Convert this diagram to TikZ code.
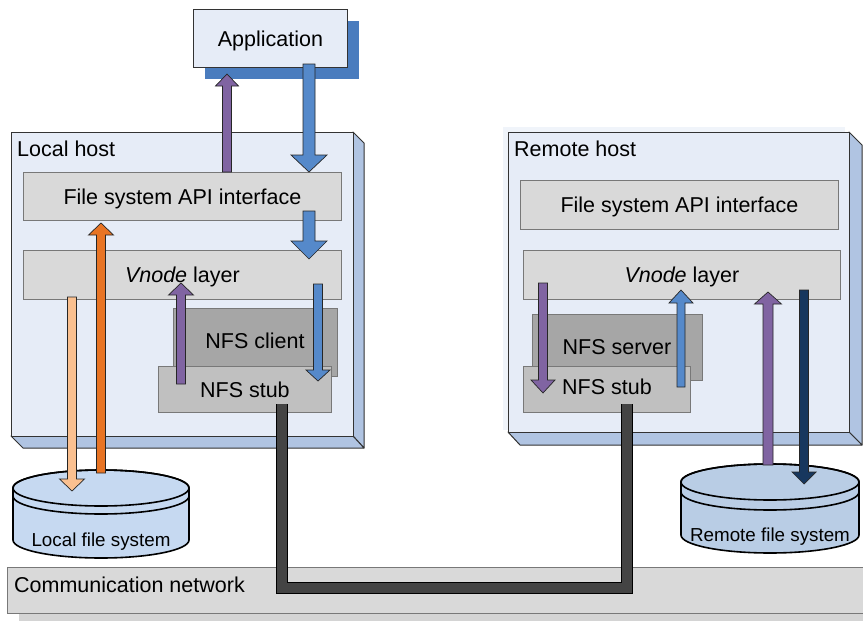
\documentclass[tikz,border=0pt]{standalone}
\usepackage{fontspec}
\setmainfont{Liberation Sans}
\usetikzlibrary{calc}
\definecolor{hostfront}{RGB}{230,236,247}
\definecolor{hostside}{RGB}{176,196,226}
\definecolor{appshadow}{RGB}{74,124,190}
\definecolor{layerfill}{RGB}{217,217,217}
\definecolor{layerline}{RGB}{120,120,120}
\definecolor{nfsfill}{RGB}{166,166,166}
\definecolor{stubfill}{RGB}{192,192,192}
\definecolor{ldisk}{RGB}{198,217,241}
\definecolor{rdisk}{RGB}{185,205,229}
\definecolor{apurple}{RGB}{128,100,162}
\definecolor{ablue}{RGB}{85,137,202}
\definecolor{aorange}{RGB}{232,116,36}
\definecolor{apeach}{RGB}{250,192,144}
\definecolor{anavy}{RGB}{23,55,94}
\definecolor{cable}{RGB}{68,68,68}
\definecolor{netshadow}{RGB}{212,212,212}
\definecolor{halo}{RGB}{240,244,250}
\newcommand\barrow[7]{\filldraw[arrowline, fill=#7] ({#1-#5},#2) -- ({#1-#5},#3) -- ({#1-#6},#3) -- (#1,#4) -- ({#1+#6},#3) -- ({#1+#5},#3) -- ({#1+#5},#2) -- cycle;}
\begin{document}
\begin{tikzpicture}[x=1pt,y=-1pt,
  lbl/.style={font=\fontsize{21.5}{25}\selectfont, text height=15.4pt, text depth=0pt},
  small/.style={font=\fontsize{18.8}{22}\selectfont, text height=13.5pt, text depth=0pt},
  box/.style={rectangle, inner sep=0pt, anchor=north west, lbl},
  layer/.style={box, draw=layerline, line width=0.8pt, fill=layerfill},
  nfs/.style={box, draw=layerline, line width=0.8pt, fill=nfsfill},
  stub/.style={box, draw=layerline, line width=0.8pt, fill=stubfill},
  host/.style={box, draw=black!80, line width=1pt, fill=hostfront},
  side/.style={draw=black!80, line width=1pt, fill=hostside, line join=round},
  arrowline/.style={draw=black!85, line width=0.7pt, line join=miter},
  disk/.style={draw=black, line width=1.6pt},
]
\useasboundingbox (0,0) rectangle (863,621);
\fill[white] (0,0) rectangle (863,621);

% Application
\fill[appshadow] (205,21) rectangle (359,79);
\node[box, draw=black!80, line width=0.8pt, fill=hostfront, minimum width=154, minimum height=58] (app) at (193,9) {Application};

% Local host
\filldraw[side] (353,132) -- (364,143) -- (364,448) -- (353,436) -- cycle;
\filldraw[side] (11,436) -- (23,448) -- (364,448) -- (353,436) -- cycle;
\node[host, minimum width=342, minimum height=304] (lhost) at (11,132) {};
\node[lbl, anchor=west, inner sep=0pt] (lhostlbl) at (17,149) {Local host};
\node[layer, minimum width=318, minimum height=48] (lapi) at (23,172) {File system API interface};
\node[layer, minimum width=318, minimum height=49] (lvnode) at (23,250) {{\itshape Vnode} layer};
\node[nfs, minimum width=164, minimum height=68] (lclient) at (173,308) {};
\node[lbl, inner sep=0pt] (lclientlbl) at (255,341) {NFS client};
\node[stub, minimum width=173, minimum height=46] (lstub) at (158,366) {NFS stub};

% Remote host
\fill[halo] (503,127) rectangle (845,430);
\filldraw[side] (849,132) -- (862,145) -- (862,445) -- (849,432) -- cycle;
\filldraw[side] (508,432) -- (520,445) -- (862,445) -- (849,432) -- cycle;
\node[host, minimum width=341, minimum height=300] (rhost) at (508,132) {};
\node[lbl, anchor=west, inner sep=0pt] (rhostlbl) at (514,149) {Remote host};
\node[layer, minimum width=318, minimum height=49] (rapi) at (520,180) {File system API interface};
\node[layer, minimum width=317, minimum height=49] (rvnode) at (523,250) {{\itshape Vnode} layer};
\node[nfs, minimum width=170, minimum height=66] (rserver) at (532,314) {};
\node[lbl, inner sep=0pt] (rserverlbl) at (617,347) {NFS server};
\node[stub, minimum width=167, minimum height=46] (rstub) at (523,366) {};
\node[lbl, inner sep=0pt] (rstublbl) at (607,387) {NFS stub};

% Communication network
\fill[netshadow] (19,575) rectangle (870,625);
\node[box, draw=layerline, line width=0.8pt, fill=layerfill, minimum width=870, minimum height=46] (net) at (7,567) {};
\node[lbl, anchor=west, inner sep=0pt] (netlbl) at (14,585) {Communication network};

% Cable
\coordinate (ca) at (282,404);
\coordinate (cb) at (282,588);
\coordinate (cc) at (627,588);
\coordinate (cd) at (627,404);
\draw[black, line width=12pt, line join=miter] (ca) -- (cb) -- (cc) -- (cd);
\draw[cable, line width=9.6pt, line join=miter] ([yshift=0.4pt]ca) -- (cb) -- (cc) -- ([yshift=0.4pt]cd);

% Local disk
\filldraw[disk, fill=ldisk] (13,488) -- (13,540) arc[start angle=180, end angle=0, x radius=88, y radius=18] -- (189,488) arc[start angle=0, end angle=-180, x radius=88, y radius=18] -- cycle;
\draw[disk] (101,488) ellipse[x radius=88, y radius=18];
\draw[disk] (13,496) arc[start angle=180, end angle=0, x radius=88, y radius=18];
\node[small, inner sep=0pt] (ldisklbl) at (101,540) {Local file system};

% Remote disk
\filldraw[disk, fill=rdisk] (681,482) -- (681,535) arc[start angle=180, end angle=0, x radius=89, y radius=18] -- (859,482) arc[start angle=0, end angle=-180, x radius=89, y radius=18] -- cycle;
\draw[disk] (770,482) ellipse[x radius=89, y radius=18];
\draw[disk] (681,492) arc[start angle=180, end angle=0, x radius=89, y radius=18];
\node[small, inner sep=0pt] (rdisklbl) at (770,535) {Remote file system};

% Arrows: x, y0, ybase, ytip, half shaft, half head, colour
\barrow{227}{172}{86}{74}{4.5}{11.5}{apurple}
\barrow{309}{64}{155}{172}{6}{18}{ablue}
\barrow{309}{211}{241}{259}{6}{18}{ablue}
\barrow{101}{473}{235}{223}{4.5}{12.5}{aorange}
\barrow{72}{297}{479}{491}{4.5}{12.5}{apeach}
\barrow{181}{384}{295}{283}{4.5}{12.5}{apurple}
\barrow{318}{284}{370}{381}{4.5}{12}{ablue}
\barrow{543}{283}{380}{393}{4.5}{12}{apurple}
\barrow{681}{387}{303}{290}{4}{12}{ablue}
\barrow{768}{465}{304}{292}{5}{13.5}{apurple}
\barrow{804}{290}{472}{484}{4.5}{12}{anavy}
\end{tikzpicture}
\end{document}
